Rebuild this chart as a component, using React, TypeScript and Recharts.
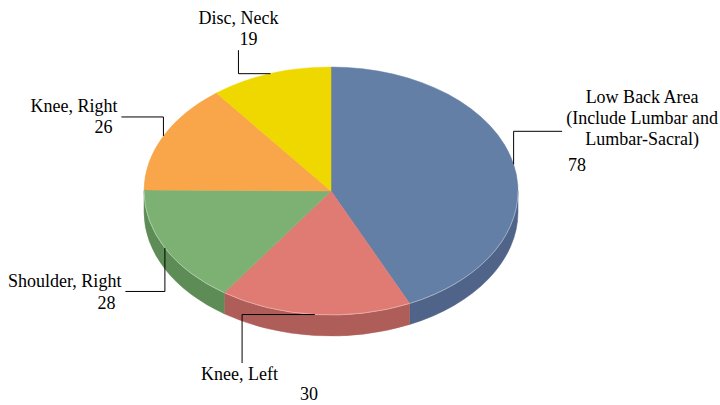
import React from 'react';
import { PieChart, Pie, Cell } from 'recharts';

const categories = [
  'Low Back Area (Include Lumbar and Lumbar-Sacral)',
  'Knee, Left',
  'Shoulder, Right',
  'Knee, Right',
  'Disc, Neck',
];
const values = [78, 30, 28, 26, 19];
const nameLines = [
  ['Low Back Area', '(Include Lumbar and', 'Lumbar-Sacral)'],
  ['Knee, Left'],
  ['Shoulder, Right'],
  ['Knee, Right'],
  ['Disc, Neck'],
];
const topColors = ['#647FA6', '#E07B73', '#7DB173', '#F9A54A', '#EFD700'];
const sideColors = ['#4F6488', '#AE5D58', '#5E8C57', '#C98236', '#BFAC00'];

const data = categories.map((name, i) => ({ name, value: values[i] }));

type LabelLayout = {
  dx: number; dy: number; vFirst: boolean;
  name: { x: number; y: number; anchor: 'start' | 'middle' | 'end' };
  lineGap: number;
  val: { x: number; y: number; anchor: 'start' | 'middle' | 'end' };
};
const labelLayout: LabelLayout[] = [
  { dx: 48.5, dy: -33, vFirst: true, name: { x: 80, y: -28, anchor: 'middle' }, lineGap: 21, val: { x: 15, y: 40, anchor: 'middle' } },
  { dx: -72.7, dy: 48.5, vFirst: false, name: { x: -2.5, y: 17, anchor: 'middle' }, lineGap: 21, val: { x: 67, y: 37, anchor: 'middle' } },
  { dx: -39.5, dy: 43.5, vFirst: true, name: { x: -4, y: -4, anchor: 'end' }, lineGap: 21, val: { x: -10, y: 18, anchor: 'end' } },
  { dx: -42, dy: -19, vFirst: true, name: { x: -4, y: -5, anchor: 'end' }, lineGap: 21, val: { x: -9, y: 16, anchor: 'end' } },
  { dx: -32, dy: -23.5, vFirst: false, name: { x: 0, y: -26, anchor: 'middle' }, lineGap: 21, val: { x: 10, y: -5, anchor: 'middle' } },
];

const RY_RATIO = 124 / 187;
const DEPTH = 21;
const RAD = Math.PI / 180;
const FONT = "'Liberation Serif', 'Times New Roman', Times, serif";

function pt(cx: number, cy: number, rx: number, ry: number, theta: number) {
  return { x: cx + rx * Math.sin(theta * RAD), y: cy - ry * Math.cos(theta * RAD) };
}

function SectorShape(props: any) {
  const { cx, cy, outerRadius, startAngle, endAngle, index } = props;
  const rx = outerRadius;
  const ry = outerRadius * RY_RATIO;
  let t0 = 90 - startAngle;
  let t1 = 90 - endAngle;
  if (t1 < t0) [t0, t1] = [t1, t0];
  const span = t1 - t0;
  const p0 = pt(cx, cy, rx, ry, t0);
  const p1 = pt(cx, cy, rx, ry, t1);
  const top = `M${cx},${cy} L${p0.x},${p0.y} A${rx},${ry} 0 ${span > 180 ? 1 : 0} 1 ${p1.x},${p1.y} Z`;
  const lo = Math.max(t0, 90);
  const hi = Math.min(t1, 270);
  let wall: string | null = null;
  let rim: string | null = null;
  if (hi > lo) {
    const a = pt(cx, cy, rx, ry, lo);
    const b = pt(cx, cy, rx, ry, hi);
    wall = `M${a.x},${a.y} A${rx},${ry} 0 0 1 ${b.x},${b.y} L${b.x},${b.y + DEPTH} A${rx},${ry} 0 0 0 ${a.x},${a.y + DEPTH} Z`;
    rim = `M${a.x},${a.y} A${rx},${ry} 0 0 1 ${b.x},${b.y}`;
  }
  return (
    <g>
      {wall && <path d={wall} fill={sideColors[index]} stroke={sideColors[index]} strokeWidth={0.5} />}
      <path d={top} fill={topColors[index]} stroke={topColors[index]} strokeWidth={0.5} />
      {rim && <path d={rim} fill="none" stroke="#ffffff" strokeOpacity={0.35} strokeWidth={1} />}
    </g>
  );
}

function renderLabel(props: any) {
  const { cx, cy, outerRadius, midAngle, index } = props;
  const rx = outerRadius;
  const ry = outerRadius * RY_RATIO;
  const a = pt(cx, cy, rx, ry, 90 - midAngle);
  const L = labelLayout[index];
  const t = { x: a.x + L.dx, y: a.y + L.dy };
  const corner = L.vFirst ? { x: a.x, y: t.y } : { x: t.x, y: a.y };
  const lines = nameLines[index];
  return (
    <g key={`lbl-${index}`}>
      <polyline points={`${a.x},${a.y} ${corner.x},${corner.y} ${t.x},${t.y}`} fill="none" stroke="#000" strokeWidth={1} />
      {lines.map((ln, j) => (
        <text key={j} x={t.x + L.name.x} y={t.y + L.name.y + j * L.lineGap} textAnchor={L.name.anchor}
          fontFamily={FONT} fontSize={18} fill="#000">
          {ln}
        </text>
      ))}
      <text x={t.x + L.val.x} y={t.y + L.val.y} textAnchor={L.val.anchor} fontFamily={FONT} fontSize={18} fill="#000">
        {values[index]}
      </text>
    </g>
  );
}

export default function App() {
  return (
    <div style={{ position: 'absolute', left: 0, top: 0, width: 720, height: 405, background: '#fff', fontFamily: FONT }}>
      <PieChart width={720} height={405} margin={{ top: 0, right: 0, bottom: 0, left: 0 }} style={{ fontFamily: FONT }}>
        <Pie
          data={data}
          dataKey="value"
          nameKey="name"
          cx={331}
          cy={191}
          outerRadius={187}
          startAngle={90}
          endAngle={-270}
          stroke="none"
          isAnimationActive={false}
          shape={SectorShape}
          label={renderLabel}
          labelLine={false}
        >
          {data.map((d, i) => (
            <Cell key={d.name} fill={topColors[i]} />
          ))}
        </Pie>
      </PieChart>
    </div>
  );
}
